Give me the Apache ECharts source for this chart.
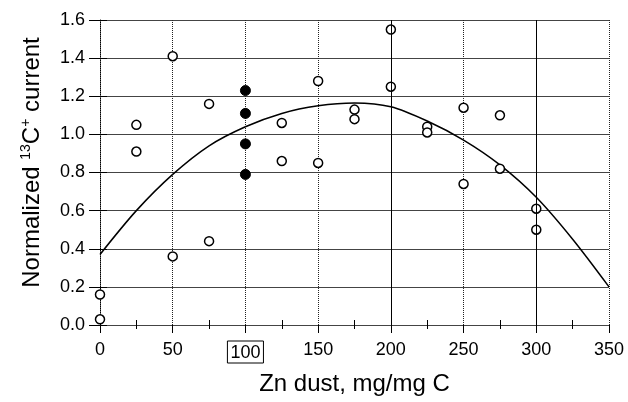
<!DOCTYPE html>
<html>
<head>
<meta charset="utf-8">
<script src="https://cdn.jsdelivr.net/npm/echarts@6/dist/echarts.min.js"></script>
<style>
html, body { margin: 0; padding: 0; background: #fff; }
#chart { width: 628px; height: 402px; }
</style>
</head>
<body>
<div id="chart"></div>
<script>
// open circles
var openX = [0, 0, 25, 25, 50, 50, 75, 75, 125, 125, 150, 150, 175, 175, 200, 200, 225, 225, 250, 250, 275, 275, 300, 300];
var openY = [0.16, 0.03, 1.05, 0.91, 1.41, 0.36, 1.16, 0.44, 1.06, 0.86, 1.28, 0.85, 1.13, 1.08, 1.55, 1.25, 1.04, 1.01, 1.14, 0.74, 1.10, 0.82, 0.61, 0.50];
// filled circles (100 mg/mg C)
var filledX = [100, 100, 100, 100];
var filledY = [1.23, 1.11, 0.95, 0.79];
// fitted curve
var curveX = [0, 25, 50, 75, 100, 125, 150, 175, 200, 225, 250, 275, 300, 325, 350];
var curveY = [0.37, 0.60, 0.79, 0.94, 1.04, 1.11, 1.15, 1.165, 1.145, 1.07, 0.97, 0.84, 0.67, 0.45, 0.20];
// vertical grid lines drawn solid (the rest are dotted)
var solidGridX = [200, 300];

function pairs(xs, ys) {
	var out = [];
	for (var i = 0; i < xs.length; i++) {
		out.push([xs[i], ys[i]]);
	}
	return out;
}

var chart = echarts.init(document.getElementById('chart'));
var font = 'Liberation Sans, Arial, sans-serif';

var option = {
	animation : false,
	backgroundColor : '#fff',
	grid : {
		left : 100,
		right : 19,
		top : 20,
		bottom : 77
	},
	xAxis : [ {
		type : 'value',
		min : 0,
		max : 350,
		interval : 50,
		name : 'Zn dust, mg/mg C',
		nameLocation : 'middle',
		nameGap : 47,
		nameTextStyle : { fontFamily : font, fontSize : 24, color : '#000' },
		axisLine : { lineStyle : { color : '#000', width : 1 } },
		axisTick : { length : 8, lineStyle : { color : '#000' } },
		minorTick : { show : true, splitNumber : 2, length : 4, lineStyle : { color : '#000' } },
		axisLabel : {
			fontFamily : font,
			fontSize : 18,
			color : '#000',
			margin : 16,
			formatter : function (v) {
				return v === 100 ? '{box|100}' : String(v);
			},
			rich : {
				box : {
					fontFamily : font,
					fontSize : 18,
					color : '#000',
					borderColor : '#000',
					borderWidth : 1,
					padding : [3, 3, 1, 3]
				}
			}
		},
		splitLine : { show : true, lineStyle : { color : '#222', width : 1, type : [1, 1] } }
	}, {
		type : 'value',
		position : 'top',
		min : 0,
		max : 350,
		interval : 50,
		axisLine : { show : true, lineStyle : { color : '#444' } },
		axisTick : { show : false },
		minorTick : { show : true, splitNumber : 2, length : 5, lineStyle : { color : '#000' } },
		axisLabel : { show : false },
		splitLine : { show : false }
	} ],
	yAxis : [ {
		type : 'value',
		min : 0,
		max : 1.6,
		interval : 0.2,
		name : 'Normalized {sup|13}C{sup|+} current',
		nameLocation : 'middle',
		nameGap : 55,
		nameTextStyle : {
			fontFamily : font,
			fontSize : 24,
			color : '#000',
			padding : [0, 0, 0, 20],
			rich : {
				sup : { fontFamily : font, fontSize : 14, color : '#000', verticalAlign : 'top', padding : [0, 0, 12, 0] }
			}
		},
		axisLine : { show : true, lineStyle : { color : '#000', type : [1, 1] } },
		axisTick : { show : true, length : 11, lineStyle : { color : '#000' } },
		axisLabel : {
			fontFamily : font,
			fontSize : 18,
			color : '#000',
			margin : 15,
			formatter : function (v) { return v.toFixed(1); }
		},
		splitLine : { show : true, lineStyle : { color : '#444', width : 1 } }
	}, {
		type : 'value',
		position : 'right',
		min : 0,
		max : 1.6,
		interval : 0.2,
		axisLine : { show : false },
		axisTick : { show : true, length : 7, lineStyle : { color : '#000' } },
		axisLabel : { show : false },
		splitLine : { show : false }
	} ],
	series : [ {
		name : 'fit',
		type : 'line',
		data : pairs(curveX, curveY),
		smooth : 0.3,
		symbol : 'none',
		lineStyle : { color : '#000', width : 1.5 },
		markLine : {
			silent : true,
			symbol : 'none',
			label : { show : false },
			lineStyle : { color : '#000', width : 1, type : 'solid' },
			data : solidGridX.map(function (v) { return { xAxis : v }; })
		},
		z : 3
	}, {
		name : 'open',
		type : 'scatter',
		data : pairs(openX, openY),
		symbol : 'circle',
		symbolSize : 9,
		itemStyle : { color : '#fff', borderColor : '#000', borderWidth : 1.5, opacity : 1 },
		z : 4
	}, {
		name : 'filled',
		type : 'scatter',
		data : pairs(filledX, filledY),
		symbol : 'circle',
		symbolSize : 10,
		itemStyle : { color : '#000', borderColor : '#000', borderWidth : 1, opacity : 1 },
		z : 4
	} ]
};

chart.setOption(option, true);
</script>
</body>
</html>
